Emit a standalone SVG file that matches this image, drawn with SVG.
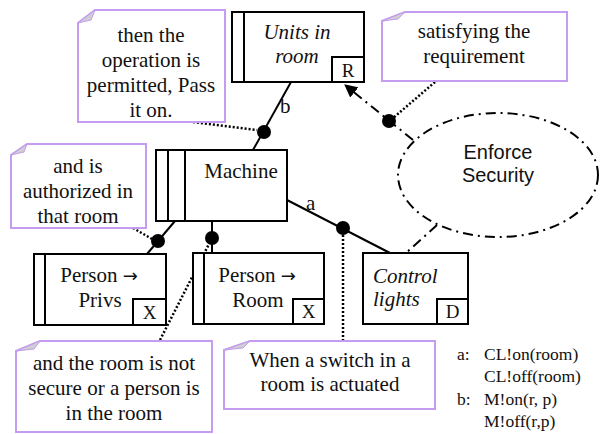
<svg xmlns="http://www.w3.org/2000/svg" width="600" height="434" viewBox="0 0 600 434">
<style>
.box{fill:#fff;stroke:#000;stroke-width:2}
.note{fill:#fff;stroke:#c49cf0;stroke-width:2}
.fold{fill:#cfcfcf;stroke:#c49cf0;stroke-width:1}
.t{font-family:"Liberation Serif","Times New Roman",serif;font-size:21px;fill:#111}
.ti{font-family:"Liberation Serif","Times New Roman",serif;font-size:21px;font-style:italic;fill:#111}
.s{font-family:"Liberation Serif","Times New Roman",serif;font-size:17.5px;fill:#111}
.sans{font-family:"Liberation Sans",Arial,sans-serif;font-size:20px;fill:#111}
.ar{font-family:"DejaVu Sans",sans-serif;font-size:18px}
.solid{stroke:#000;stroke-width:2;fill:none}
.dot{stroke:#000;stroke-width:2.5;stroke-dasharray:2 2;fill:none}
.dd{stroke:#000;stroke-width:2;stroke-dasharray:10 5 2 5;fill:none}
</style>
<defs>
<marker id="arr" viewBox="0 0 12 12" refX="11" refY="6" markerWidth="13" markerHeight="13" markerUnits="userSpaceOnUse" orient="auto">
<path d="M0,0 L12,6 L0,12 z" fill="#000"/>
</marker>
</defs>

<g id="connectors">
<line class="solid" x1="291" y1="82" x2="253" y2="150"/>
<line class="dot" x1="193" y1="122" x2="257" y2="130"/>
<circle cx="264" cy="132" r="7" fill="#000"/>
<text class="t" x="280" y="113">b</text>

<line class="solid" x1="287" y1="200" x2="390" y2="253"/>
<line class="dot" x1="343" y1="235" x2="343" y2="353"/>
<circle cx="343" cy="228" r="7" fill="#000"/>
<text class="t" x="306" y="210">a</text>

<line class="solid" x1="175" y1="221" x2="147" y2="254"/>
<line class="dot" x1="133" y1="228" x2="152" y2="239"/>
<circle cx="158" cy="241" r="7" fill="#000"/>

<line class="solid" x1="212" y1="221" x2="212" y2="253"/>
<line class="dot" x1="210" y1="242" x2="160" y2="340"/>
<circle cx="212" cy="238" r="7" fill="#000"/>

<line class="dd" x1="413" y1="140" x2="345" y2="85" marker-end="url(#arr)"/>
<line class="dot" x1="435" y1="82" x2="392" y2="119"/>
<circle cx="389" cy="121" r="7" fill="#000"/>

<line class="dd" x1="437" y1="225" x2="406" y2="253"/>
</g>

<g id="enforce">
<ellipse class="dd" cx="498" cy="175" rx="100" ry="62"/>
<text class="sans" x="498" y="159" text-anchor="middle">Enforce</text>
<text class="sans" x="498" y="182" text-anchor="middle">Security</text>
</g>

<g id="units">
<rect class="box" x="232" y="12" width="132" height="70"/>
<line class="solid" x1="244" y1="12" x2="244" y2="82"/>
<rect class="box" x="332" y="57" width="32" height="25"/>
<text class="ti" x="297" y="39" text-anchor="middle">Units in</text>
<text class="ti" x="297" y="63" text-anchor="middle">room</text>
<text class="t" x="348" y="77" text-anchor="middle" style="font-size:19px">R</text>
</g>

<g id="machine">
<rect class="box" x="156" y="150" width="131" height="71"/>
<line class="solid" x1="168" y1="150" x2="168" y2="221"/>
<line class="solid" x1="185" y1="150" x2="185" y2="221"/>
<text class="t" x="241" y="178" text-anchor="middle">Machine</text>
</g>

<g id="privs">
<rect class="box" x="34" y="254" width="132" height="71"/>
<line class="solid" x1="45" y1="254" x2="45" y2="325"/>
<rect class="box" x="133" y="299" width="33" height="26"/>
<text class="t" x="99" y="282" text-anchor="middle">Person <tspan class="ar">→</tspan></text>
<text class="t" x="100" y="307" text-anchor="middle">Privs</text>
<text class="t" x="149.5" y="319" text-anchor="middle" style="font-size:19px">X</text>
</g>

<g id="room">
<rect class="box" x="193" y="253" width="131" height="71"/>
<line class="solid" x1="204" y1="253" x2="204" y2="324"/>
<rect class="box" x="293" y="299" width="31" height="25"/>
<text class="t" x="257" y="282" text-anchor="middle">Person <tspan class="ar">→</tspan></text>
<text class="t" x="258" y="307" text-anchor="middle">Room</text>
<text class="t" x="308.5" y="318" text-anchor="middle" style="font-size:19px">X</text>
</g>

<g id="lights">
<rect class="box" x="363" y="253" width="105" height="71"/>
<rect class="box" x="437" y="299" width="31" height="25"/>
<text class="ti" x="373" y="283">Control</text>
<text class="ti" x="373" y="306">lights</text>
<text class="t" x="452.5" y="318" text-anchor="middle" style="font-size:19px">D</text>
</g>

<g id="note1">
<polygon class="note" points="95,10 225,10 225,122 78,122 78,23"/>
<polygon class="fold" points="78,23 95,10 91,20"/>
<text class="t" x="151" y="42" text-anchor="middle">then the</text>
<text class="t" x="151" y="67" text-anchor="middle">operation is</text>
<text class="t" x="151" y="92" text-anchor="middle">permitted, Pass</text>
<text class="t" x="151" y="117" text-anchor="middle">it on.</text>
</g>

<g id="note2">
<polygon class="note" points="405,12 567,12 567,81 382,81 382,21"/>
<polygon class="fold" points="382,21 405,12 398,19"/>
<text class="t" x="474" y="38" text-anchor="middle">satisfying the</text>
<text class="t" x="474" y="63" text-anchor="middle">requirement</text>
</g>

<g id="note3">
<polygon class="note" points="27,144 146,144 146,228 11,228 11,155"/>
<polygon class="fold" points="11,155 27,144 24,152"/>
<text class="t" x="78" y="173" text-anchor="middle">and is</text>
<text class="t" x="78" y="198" text-anchor="middle">authorized in</text>
<text class="t" x="78" y="223" text-anchor="middle">that room</text>
</g>

<g id="note4">
<polygon class="note" points="40,341 212,341 212,432 16,432 16,351"/>
<polygon class="fold" points="16,351 40,341 34,349"/>
<text class="t" x="114" y="370" text-anchor="middle">and the room is not</text>
<text class="t" x="114" y="395" text-anchor="middle">secure or a person is</text>
<text class="t" x="114" y="420" text-anchor="middle">in the room</text>
</g>

<g id="note5">
<polygon class="note" points="250,341 435,341 435,409 224,409 224,350"/>
<polygon class="fold" points="224,350 250,341 243,348"/>
<text class="t" x="330" y="367" text-anchor="middle">When a switch in a</text>
<text class="t" x="330" y="391" text-anchor="middle">room is actuated</text>
</g>

<g id="legend">
<text class="s" x="457" y="360">a:</text>
<text class="s" x="484" y="360">CL!on(room)</text>
<text class="s" x="484" y="382">CL!off(room)</text>
<text class="s" x="457" y="405">b:</text>
<text class="s" x="484" y="405">M!on(r, p)</text>
<text class="s" x="484" y="427">M!off(r,p)</text>
</g>
</svg>
